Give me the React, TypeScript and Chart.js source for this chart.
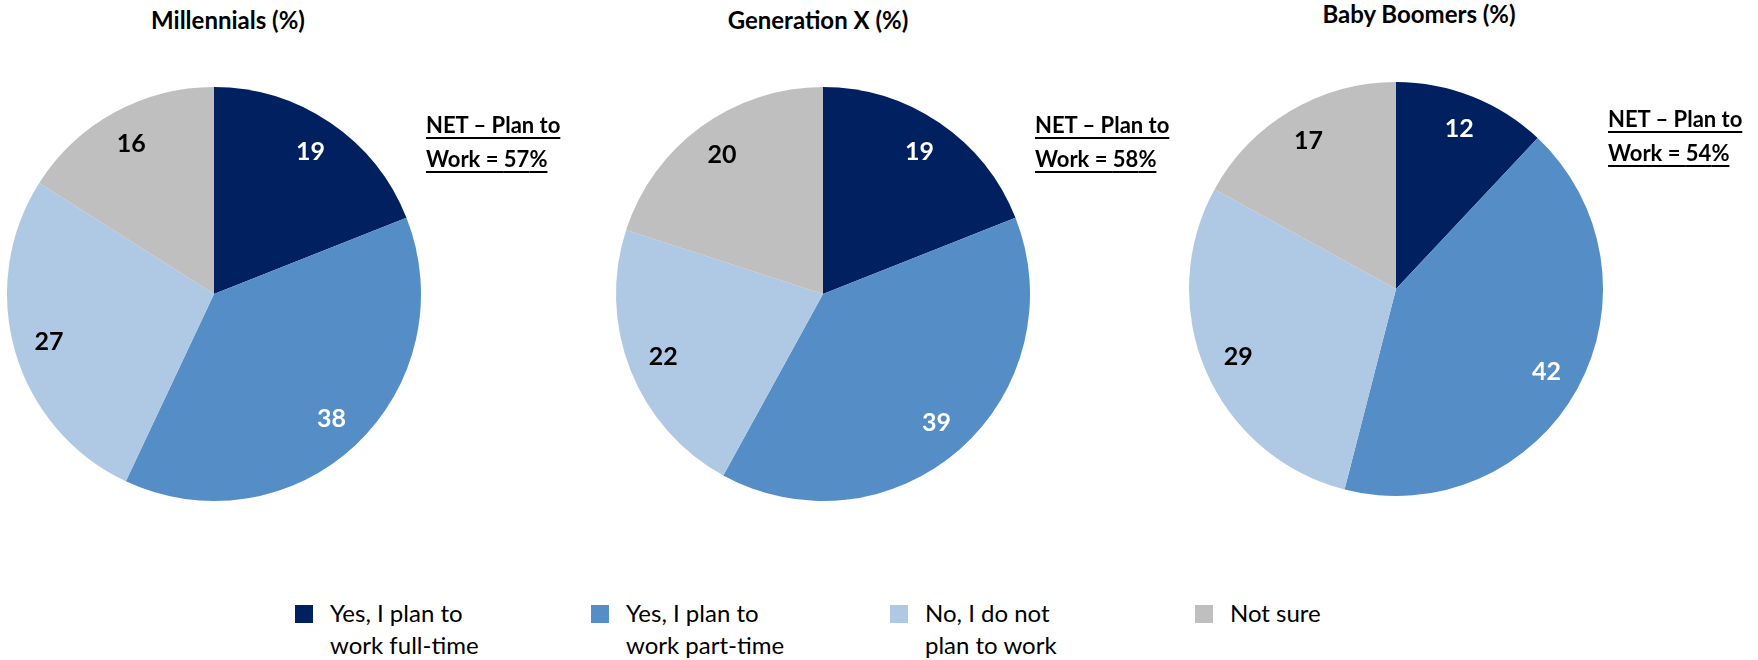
import React, { useEffect, useRef } from "react";
import { Chart, registerables } from "chart.js";

Chart.register(...registerables);

const categories = [
  "Yes, I plan to work full-time",
  "Yes, I plan to work part-time",
  "No, I do not plan to work",
  "Not sure",
];
const legendLines = [
  ["Yes, I plan to", "work full-time"],
  ["Yes, I plan to", "work part-time"],
  ["No, I do not", "plan to work"],
  ["Not sure"],
];
const colors = ["#002060", "#558EC7", "#AFC9E4", "#BFBFBF"];
const labelColors = ["#FFFFFF", "#FFFFFF", "#000000", "#000000"];

const groups = ["Millennials (%)", "Generation X (%)", "Baby Boomers (%)"];
const millennials = [19, 38, 27, 16];
const genX = [19, 39, 22, 20];
const boomers = [12, 42, 29, 17];
const netValues = [57, 58, 54];
const seriesList = [millennials, genX, boomers];

const FONT = "Lato, 'Open Sans', sans-serif";

const layout = [
  { cx: 214, cy: 294, titleX: 228, titleY: 20, netX: 426, netY: 108 },
  { cx: 823, cy: 294, titleX: 818, titleY: 20, netX: 1035, netY: 108 },
  { cx: 1396, cy: 289, titleX: 1419, titleY: 14, netX: 1608, netY: 102 },
];
const R = 207;
const BOX = 440;

const labelPlugin = {
  id: "sliceLabels",
  afterDatasetsDraw(chart: any) {
    const ctx = chart.ctx;
    const meta = chart.getDatasetMeta(0);
    const data = chart.data.datasets[0].data;
    ctx.save();
    ctx.font = `bold 25px ${FONT}`;
    ctx.textAlign = "center";
    ctx.textBaseline = "middle";
    meta.data.forEach((arc: any, i: number) => {
      const p = arc.getProps(["x", "y", "startAngle", "endAngle", "outerRadius"], true);
      const mid = (p.startAngle + p.endAngle) / 2;
      const d = p.outerRadius * 0.83;
      ctx.fillStyle = labelColors[i];
      ctx.fillText(String(data[i]), p.x + Math.cos(mid) * d, p.y + Math.sin(mid) * d);
    });
    ctx.restore();
  },
};

function Pie({ values }: { values: number[] }) {
  const ref = useRef<HTMLCanvasElement>(null);
  useEffect(() => {
    const chart = new Chart(ref.current!, {
      type: "pie",
      data: {
        labels: categories,
        datasets: [{ data: values, backgroundColor: colors, borderWidth: 0 }],
      },
      options: {
        animation: false,
        responsive: false,
        radius: R,
        layout: { padding: 0 },
        plugins: { legend: { display: false }, tooltip: { enabled: false }, title: { display: false } },
      } as any,
      plugins: [labelPlugin],
    });
    return () => chart.destroy();
  }, [values]);
  return <canvas ref={ref} width={BOX} height={BOX} style={{ width: BOX, height: BOX }} />;
}

export default function App() {
  return (
    <div
      style={{
        position: "absolute",
        left: 0,
        top: 0,
        width: 1758,
        height: 660,
        background: "#fff",
        fontFamily: FONT,
        color: "#000",
        overflow: "hidden",
      }}
    >
      {groups.map((g, i) => {
        const L = layout[i];
        return (
          <React.Fragment key={g}>
            <div
              style={{
                position: "absolute",
                left: L.titleX - 200,
                width: 400,
                top: L.titleY - 16,
                height: 32,
                lineHeight: "32px",
                textAlign: "center",
                fontWeight: 700,
                fontSize: 24,
              }}
            >
              {g}
            </div>
            <div style={{ position: "absolute", left: L.cx - BOX / 2, top: L.cy - BOX / 2 }}>
              <Pie values={seriesList[i]} />
            </div>
            <div
              style={{
                position: "absolute",
                left: L.netX,
                top: L.netY,
                fontWeight: 700,
                fontSize: 22,
                lineHeight: "34px",
                textDecoration: "underline",
                textDecorationThickness: 2,
                textUnderlineOffset: 4,
                whiteSpace: "nowrap",
              }}
            >
              <div>NET – Plan to</div>
              <div>Work = {netValues[i]}%</div>
            </div>
          </React.Fragment>
        );
      })}
      {legendLines.map((lines, i) => {
        const xs = [295, 591, 890, 1195];
        return (
          <div key={i} style={{ position: "absolute", left: xs[i], top: 605 }}>
            <div style={{ position: "absolute", left: 0, top: 0, width: 18, height: 18, background: colors[i] }} />
            <div
              style={{
                position: "absolute",
                left: 35,
                top: -8,
                fontSize: 24,
                lineHeight: "32px",
                whiteSpace: "nowrap",
              }}
            >
              {lines.map((t, j) => (
                <div key={j}>{t}</div>
              ))}
            </div>
          </div>
        );
      })}
    </div>
  );
}
